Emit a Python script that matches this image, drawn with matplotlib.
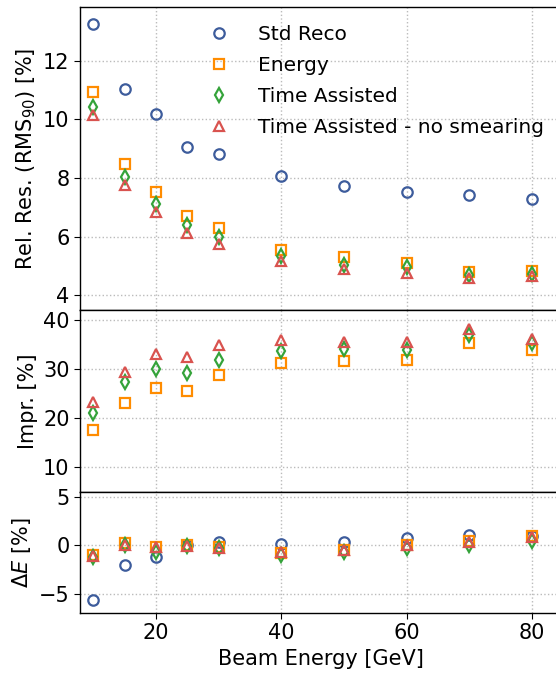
import matplotlib
matplotlib.use("Agg")
import matplotlib.pyplot as plt

energies = [10, 15, 20, 25, 30, 40, 50, 60, 70, 80]
labels = ["Std Reco", "Energy", "Time Assisted", "Time Assisted - no smearing"]

res_std = [13.26, 11.03, 10.18, 9.04, 8.83, 8.08, 7.74, 7.52, 7.43, 7.29]
res_energy = [10.92, 8.48, 7.52, 6.72, 6.29, 5.55, 5.29, 5.10, 4.81, 4.83]
res_time = [10.43, 8.03, 7.12, 6.39, 6.00, 5.35, 5.05, 4.98, 4.70, 4.73]
res_nosmear = [10.15, 7.75, 6.83, 6.12, 5.75, 5.18, 4.89, 4.76, 4.59, 4.66]

impr_energy = [17.6, 23.1, 26.2, 25.6, 28.8, 31.2, 31.6, 31.9, 35.4, 33.9]
impr_time = [21.1, 27.4, 30.0, 29.2, 31.9, 33.7, 34.1, 33.9, 37.0, 35.3]
impr_nosmear = [23.3, 29.5, 33.1, 32.4, 34.8, 36.0, 35.5, 35.5, 38.2, 36.2]

de_std = [-5.6, -2.06, -1.24, 0.0, 0.34, 0.1, 0.4, 0.72, 1.03, 0.96]
de_energy = [-1.0, 0.27, -0.14, 0.03, -0.14, -0.82, -0.48, 0.0, 0.44, 0.96]
de_time = [-1.24, 0.03, -0.65, -0.04, -0.3, -1.0, -0.65, -0.3, 0.03, 0.44]
de_nosmear = [-1.1, 0.03, -0.14, -0.04, -0.3, -0.65, -0.48, 0.0, 0.34, 0.85]

colors = ["#3d5c9c", "#ff8c00", "#34a33a", "#d9534f"]
markers = ["o", "s", "d", "^"]

fig = plt.figure(figsize=(5.56, 6.73), dpi=100)
L, W = 80/556, 481/556
ax1 = fig.add_axes([L, 0.5394, W, 0.4502])
ax2 = fig.add_axes([L, 0.2689, W, 0.2704], sharex=ax1)
ax3 = fig.add_axes([L, 0.0892, W, 0.1798], sharex=ax1)

mk = dict(linestyle="none", markerfacecolor="none", markersize=7.5, markeredgewidth=1.6)

ax1.plot(energies, res_std, marker=markers[0], color=colors[0], label=labels[0], **mk)
ax1.plot(energies, res_energy, marker=markers[1], color=colors[1], label=labels[1], **mk)
ax1.plot(energies, res_time, marker=markers[2], color=colors[2], label=labels[2], **mk)
ax1.plot(energies, res_nosmear, marker=markers[3], color=colors[3], label=labels[3], **mk)

ax2.plot(energies, impr_energy, marker=markers[1], color=colors[1], **mk)
ax2.plot(energies, impr_time, marker=markers[2], color=colors[2], **mk)
ax2.plot(energies, impr_nosmear, marker=markers[3], color=colors[3], **mk)

ax3.plot(energies, de_std, marker=markers[0], color=colors[0], **mk)
ax3.plot(energies, de_energy, marker=markers[1], color=colors[1], **mk)
ax3.plot(energies, de_time, marker=markers[2], color=colors[2], **mk)
ax3.plot(energies, de_nosmear, marker=markers[3], color=colors[3], **mk)

ax1.set_xlim(7.9, 84.6)
ax1.set_ylim(3.5, 13.83)
ax1.set_yticks([4, 6, 8, 10, 12])
ax2.set_ylim(5, 42)
ax2.set_yticks([10, 20, 30, 40])
ax3.set_ylim(-6.95, 5.5)
ax3.set_yticks([-5, 0, 5])
ax3.set_xticks([20, 40, 60, 80])

fs = 15
for ax in (ax1, ax2, ax3):
    ax.grid(True, linestyle=":", color="#bbbbbb", linewidth=1)
    ax.tick_params(labelsize=fs, direction="out", length=4)
    ax.set_axisbelow(True)
    for s in ax.spines.values():
        s.set_linewidth(1.0)
plt.setp(ax1.get_xticklabels(), visible=False)
plt.setp(ax2.get_xticklabels(), visible=False)
ax1.tick_params(axis="x", length=0)
ax2.tick_params(axis="x", length=0)

ax1.set_ylabel(r"Rel. Res. (RMS$_{90}$) [%]", fontsize=fs)
ax2.set_ylabel("Impr. [%]", fontsize=fs)
ax3.set_ylabel(r"$\Delta E$ [%]", fontsize=fs)
ax3.set_xlabel("Beam Energy [GeV]", fontsize=fs)

ax1.legend(loc="upper left", bbox_to_anchor=(0.21, 1.0), frameon=False,
           fontsize=fs - 0.5, handletextpad=0.9, labelspacing=0.6)

fig.savefig("out.png", dpi=100)
